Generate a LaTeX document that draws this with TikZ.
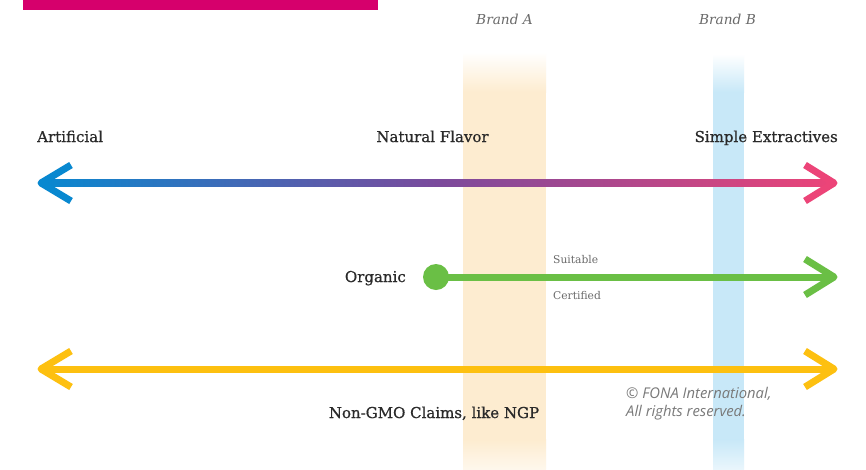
\documentclass[tikz,border=0pt]{standalone}
\usepackage{fontspec}
\setmainfont{DejaVu Serif}
\newfontfamily\labelfont{DejaVu Serif}[FakeBold=0.7]
\newfontfamily\notefont{Open Sans}
\begin{document}
\definecolor{barpink}{HTML}{D6006C}
\definecolor{artblue}{HTML}{0888D0}
\definecolor{midpurple}{HTML}{7B4A9C}
\definecolor{extpink}{HTML}{EC4478}
\definecolor{orggreen}{HTML}{6ABF45}
\definecolor{gmoyellow}{HTML}{FDC010}
\definecolor{peach}{HTML}{FDECD0}
\definecolor{skyblue}{HTML}{C8E8F8}
\definecolor{inkdark}{HTML}{2A2A2A}
\definecolor{inkgray}{HTML}{6A6A6A}
\begin{tikzpicture}[x=1pt,y=-1pt,
  label/.style={font=\labelfont\fontsize{15}{17}\selectfont, text=inkdark, inner sep=0pt},
  brandlabel/.style={font=\fontsize{13.7}{16}\selectfont\itshape, text=inkgray, inner sep=0pt},
  smalllabel/.style={font=\fontsize{10.7}{13}\selectfont, text=inkgray, inner sep=0pt},
  note/.style={font=\notefont\fontsize{14.8}{17}\selectfont\itshape, text=inkgray!90, inner sep=0pt, align=left},
  shaft/.style={line width=7pt},
  chevron/.style={line width=7pt, line join=round, line cap=butt}]
\useasboundingbox (0,0) rectangle (866,469);
\fill[white] (0,0) rectangle (866,469);

% header strip
\fill[barpink] (23,0) rectangle (378,10);

% brand columns
\shade[top color=white, bottom color=peach] (463,52) rectangle (546,92);
\fill[peach] (463,91.5) rectangle (546,440);
\shade[top color=peach, bottom color=peach!40] (463,439.5) rectangle (546,469);
\shade[top color=white, bottom color=skyblue] (713,54) rectangle (744,92);
\fill[skyblue] (713,91.5) rectangle (744,440);
\shade[top color=skyblue, bottom color=skyblue!40] (713,439.5) rectangle (744,469);

\node[brandlabel, anchor=base] (brandA) at (504.5,24) {Brand A};
\node[brandlabel, anchor=base] (brandB) at (727.5,24) {Brand B};

% scale labels
\node[label, anchor=base west] (artificial) at (37,142) {Artificial};
\node[label, anchor=base] (natural) at (432.5,142) {Natural Flavor};
\node[label, anchor=base east] (extractives) at (838,142) {Simple Extractives};

% flavour scale: gradient shaft with open heads
\coordinate (topL) at (41,183);
\coordinate (topR) at (834,183);
\shade[left color=artblue, right color=extpink, middle color=midpurple]
  ([yshift=-3.5pt]topL) rectangle ([yshift=3.5pt]topR);
\draw[chevron, artblue] ([xshift=30pt,yshift=-18pt]topL) -- (topL) -- ([xshift=30pt,yshift=18pt]topL);
\draw[chevron, extpink] ([xshift=-29pt,yshift=-18pt]topR) -- (topR) -- ([xshift=-29pt,yshift=18pt]topR);

% organic claim
\node[label, anchor=base east] (organic) at (406,282) {Organic};
\node[circle, fill=orggreen, minimum size=26pt, inner sep=0pt] (dot) at (436,277) {};
\coordinate (orgR) at (834,277);
\draw[shaft, orggreen] (dot.center) -- (orgR);
\draw[chevron, orggreen] ([xshift=-29pt,yshift=-18pt]orgR) -- (orgR) -- ([xshift=-29pt,yshift=18pt]orgR);
\node[smalllabel, anchor=base west] (suitable) at (553,263) {Suitable};
\node[smalllabel, anchor=base west] (certified) at (553,299) {Certified};

% non-GMO claim
\coordinate (gmoL) at (41,369);
\coordinate (gmoR) at (834,369);
\draw[shaft, gmoyellow] (gmoL) -- (gmoR);
\draw[chevron, gmoyellow] ([xshift=30pt,yshift=-18pt]gmoL) -- (gmoL) -- ([xshift=30pt,yshift=18pt]gmoL);
\draw[chevron, gmoyellow] ([xshift=-29pt,yshift=-18pt]gmoR) -- (gmoR) -- ([xshift=-29pt,yshift=18pt]gmoR);
\node[label, anchor=base] (nongmo) at (434,418) {Non-GMO Claims, like NGP};

\node[note, anchor=base west] (copy1) at (626,398) {© FONA International,};
\node[note, anchor=base west] (copy2) at (626,416) {All rights reserved.};
\end{tikzpicture}
\end{document}
